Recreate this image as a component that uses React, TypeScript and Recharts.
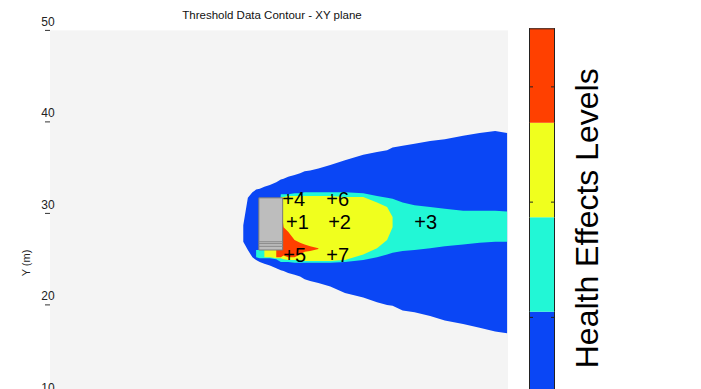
import React from "react";
import {
  ComposedChart,
  Area,
  Scatter,
  XAxis,
  YAxis,
  CartesianGrid,
  ReferenceArea,
  ReferenceLine,
  BarChart,
  Bar,
} from "recharts";

// plume cross-sections: x (m) and [low, high] y (m) per level
const plumeX = [
  21.1, 21.6, 22.1, 22.5, 22.9, 23.4, 24.0, 24.7, 25.2, 25.5, 26.0, 26.7, 27.3, 27.8, 28.4,
  29.3, 30.6, 32.2, 34.2, 35.7, 36.8, 37.4, 38.5, 39.8, 41.5, 43.1, 45.1, 46.9, 48.6, 49.9,
];
const blueRange = [
  [26.9, 28.7], [26.0, 31.7], [25.2, 32.3], [24.9, 32.6], [24.7, 32.7], [24.5, 32.9],
  [24.3, 33.1], [24.0, 33.4], [23.8, 33.7], [23.7, 33.8], [23.5, 34.0], [23.3, 34.2],
  [23.1, 34.4], [22.8, 34.6], [22.6, 34.7], [22.4, 34.9], [22.0, 35.3], [21.3, 35.8],
  [20.8, 36.4], [20.3, 36.7], [20.0, 36.9], [19.9, 37.2], [19.4, 37.4], [19.2, 37.6],
  [18.8, 37.9], [18.3, 38.1], [17.9, 38.5], [17.5, 38.8], [17.1, 39.0], [16.9, 38.8],
];
const cyanRange = [
  null, null, null, [25.2, 26.0], [25.1, 26.0], [25.1, 26.0],
  [25.1, 26.0], [25.0, 26.0], [24.7, 32.1], [24.7, 32.1], [24.7, 32.1], [24.6, 32.2],
  [24.6, 32.2], [24.6, 32.3], [24.6, 32.3], [24.6, 32.3], [24.6, 32.3], [24.7, 32.3],
  [24.9, 32.2], [25.2, 31.9], [25.5, 31.7], [25.7, 31.6], [25.9, 31.2], [26.0, 30.9],
  [26.2, 30.7], [26.4, 30.5], [26.6, 30.3], [26.8, 30.3], [26.9, 30.3], [26.9, 30.2],
];
const yellowRange = [
  null, null, null, null, null, [25.2, 26.0],
  [25.2, 26.0], [25.1, 26.0], [25.1, 31.8], [25.0, 31.8], [24.9, 31.9], [24.9, 31.9],
  [24.9, 31.9], [24.8, 31.9], [24.8, 31.9], [24.8, 31.9], [24.8, 31.9], [24.9, 31.8],
  [25.5, 31.8], [26.2, 31.2], [27.1, 30.7], [28.5, 29.6], null, null,
  null, null, null, null, null, null,
];
const redRange = [
  null, null, null, null, null, null,
  null, [25.2, 26.0], [25.2, 30.9], [25.4, 28.5], [25.2, 28.0], [25.2, 27.1],
  [25.5, 26.8], [25.8, 26.6], [25.9, 26.4], [26.1, 26.2], null, null,
  null, null, null, null, null, null,
  null, null, null, null, null, null,
];

const sensorLabels = ["1", "2", "3", "4", "5", "6", "7"];
const sensorX = [26.4, 31.0, 40.4, 26.0, 26.1, 30.8, 30.8];
const sensorY = [29.1, 29.1, 29.1, 31.6, 25.5, 31.6, 25.5];

const buildingX = [22.8, 25.4];
const buildingY = [26.0, 31.7];
const buildingStripes = [26.4, 26.7, 26.9];

const yTicks = [10, 20, 30, 40, 50];

const levelKeys = ["l1", "l2", "l3", "l4"];
const levelColors = ["#0a46f5", "#22f7d6", "#f0ff1e", "#ff4000"];
const levelTicks = [0.94, 2.16, 3.38];

const plume = plumeX.map((x, i) => ({
  x,
  blue: blueRange[i],
  cyan: cyanRange[i],
  yellow: yellowRange[i],
  red: redRange[i],
}));
const sensors = sensorLabels.map((label, i) => ({ label, x: sensorX[i], y: sensorY[i] }));
const levelRow = [{ name: "levels", ...Object.fromEntries(levelKeys.map((k) => [k, 1])) }];

const font = "Arial, 'Liberation Sans', sans-serif";

const YTick = (props: any) => {
  const { y, payload } = props;
  return (
    <g>
      <text x={48} y={y - 4.5} textAnchor="middle" fontSize={12} fill="#222" fontFamily={font}>
        {payload.value}
      </text>
      <line x1={45} x2={50} y1={y} y2={y} stroke="#333" />
    </g>
  );
};

const SensorMark = (props: any) => {
  const { cx, cy, payload } = props;
  return (
    <text x={cx - 5.8} y={cy + 7} fontSize={20} fill="#000" fontFamily={font}>
      +{payload.label}
    </text>
  );
};

// colour bar segment: filled rect, outer frame on the sides/ends and inside tick marks
const LevelSegment = (props: any) => {
  const { x, y, width, height, fill, index, dataKey } = props;
  const k = levelKeys.indexOf(dataKey);
  const bottomVal = k;
  const topVal = k + 1;
  const perUnit = height;
  const ticks = levelTicks.filter((t) => t >= bottomVal && t < topVal);
  return (
    <g key={index}>
      <rect x={x} y={y} width={width} height={height} fill={fill} />
      <line x1={x + 0.5} x2={x + 0.5} y1={y} y2={y + height} stroke="#222" />
      <line x1={x + width - 0.5} x2={x + width - 0.5} y1={y} y2={y + height} stroke="#222" />
      {k === levelKeys.length - 1 && (
        <line x1={x} x2={x + width} y1={y + 0.5} y2={y + 0.5} stroke="#222" />
      )}
      {ticks.map((t) => {
        const ty = y + height - (t - bottomVal) * perUnit;
        return (
          <g key={t}>
            <line x1={x} x2={x + 4} y1={ty} y2={ty} stroke="#222" />
            <line x1={x + width - 4} x2={x + width} y1={ty} y2={ty} stroke="#222" />
          </g>
        );
      })}
    </g>
  );
};

export default function App() {
  return (
    <div
      style={{
        position: "absolute",
        left: 0,
        top: 0,
        width: 701,
        height: 389,
        overflow: "hidden",
        background: "#fff",
      }}
    >
      <div style={{ position: "absolute", left: 0, top: 0 }}>
        <ComposedChart
          width={520}
          height={400}
          data={plume}
          margin={{ top: 30.4, right: 12, bottom: 3.6, left: 0 }}
        >
          <CartesianGrid fill="#f4f4f4" stroke="none" horizontal={false} vertical={false} />
          <XAxis dataKey="x" type="number" domain={[0, 50]} hide />
          <YAxis
            type="number"
            domain={[10, 50]}
            ticks={yTicks}
            width={50}
            axisLine={false}
            tickLine={false}
            tick={<YTick />}
            interval={0}
          />
          <Area dataKey="blue" type="linear" stroke="none" fill={levelColors[0]} fillOpacity={1} dot={false} activeDot={false} isAnimationActive={false} />
          <Area dataKey="cyan" type="linear" stroke="none" fill={levelColors[1]} fillOpacity={1} dot={false} activeDot={false} isAnimationActive={false} />
          <Area dataKey="yellow" type="linear" stroke="none" fill={levelColors[2]} fillOpacity={1} dot={false} activeDot={false} isAnimationActive={false} />
          <Area dataKey="red" type="linear" stroke="none" fill={levelColors[3]} fillOpacity={1} dot={false} activeDot={false} isAnimationActive={false} />
          <ReferenceArea
            x1={buildingX[0]}
            x2={buildingX[1]}
            y1={buildingY[0]}
            y2={buildingY[1]}
            fill="#bdbdbd"
            fillOpacity={1}
            stroke="#7a7a7a"
          />
          {buildingStripes.map((s) => (
            <ReferenceLine
              key={s}
              segment={[
                { x: buildingX[0], y: s },
                { x: buildingX[1], y: s },
              ]}
              stroke="#8a8a8a"
            />
          ))}
          <Scatter data={sensors} dataKey="y" shape={<SensorMark />} isAnimationActive={false} />
          <text x={272} y={19} textAnchor="middle" fontSize={11.5} fill="#111" fontFamily={font}>
            Threshold Data Contour - XY plane
          </text>
          <text
            x={29.5}
            y={263}
            transform="rotate(-90, 29.5, 263)"
            textAnchor="middle"
            fontSize={11}
            fill="#222"
            fontFamily={font}
          >
            Y (m)
          </text>
        </ComposedChart>
      </div>
      <div style={{ position: "absolute", left: 529, top: 0 }}>
        <BarChart
          width={172}
          height={406.2}
          data={levelRow}
          margin={{ top: 28.3, right: 146, bottom: 0, left: 0 }}
          barCategoryGap={0}
        >
          <XAxis dataKey="name" type="category" hide />
          <YAxis type="number" domain={[0, 4]} hide />
          {levelKeys.map((k, i) => (
            <Bar
              key={k}
              dataKey={k}
              stackId="levels"
              fill={levelColors[i]}
              shape={<LevelSegment />}
              isAnimationActive={false}
            />
          ))}
          <text
            x={69}
            y={218.3}
            transform="rotate(-90, 69, 218.3)"
            textAnchor="middle"
            fontSize={32}
            fill="#000"
            fontFamily={font}
          >
            Health Effects Levels
          </text>
        </BarChart>
      </div>
    </div>
  );
}
